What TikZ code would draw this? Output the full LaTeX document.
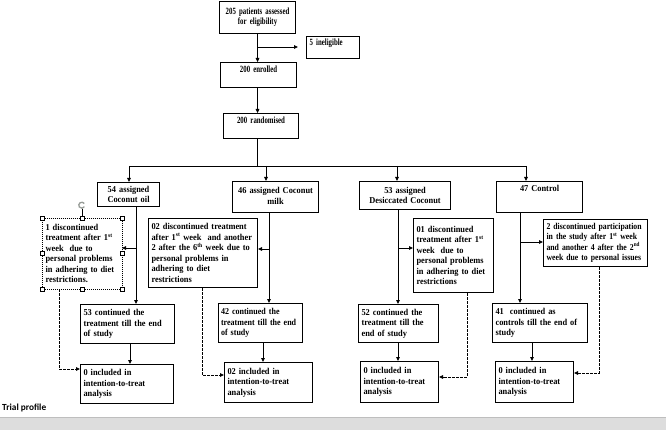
\documentclass[tikz,border=0pt]{standalone}
\usepackage{fontspec}
\setmainfont{Liberation Serif}
\newfontfamily\bxfont{Liberation Serif}[FakeStretch=0.93]
\newfontfamily\midfont{Liberation Serif}[FakeStretch=0.89]
\newfontfamily\narrowfont{Liberation Serif}[FakeStretch=0.86]
\newfontfamily\condfont{Liberation Serif}[FakeStretch=0.72]
\newfontfamily\capfont{Carlito}
\usetikzlibrary{arrows.meta}
\definecolor{bandgrey}{RGB}{221,221,221}
\definecolor{bandline}{RGB}{190,190,190}
\definecolor{rotgrey}{RGB}{150,155,150}
\begin{document}
\begin{tikzpicture}[x=1pt,y=-1pt,
 box/.style={draw, line width=1.1pt, anchor=north west, inner xsep=3pt, inner ysep=2pt,
   font=\bxfont\fontsize{9}{10.5}\selectfont\bfseries, align=left},
 cbox/.style={box, align=center},
 topbox/.style={cbox, font=\condfont\fontsize{9.5}{10.4}\selectfont\bfseries},
 conn/.style={line width=0.9pt},
 arr/.style={conn, -{Triangle[length=4pt,width=3.6pt]}},
 darr/.style={arr, dash pattern=on 2.5pt off 1.5pt},
 handlebox/.style={draw, fill=white, line width=0.4pt}
]
\useasboundingbox (0,0) rectangle (666,430);

% top flow
\node[topbox, minimum width=76pt, minimum height=32pt, text width=70pt] (a) at (219,1) {205 patients assessed\\for eligibility};
\node[box, font=\condfont\fontsize{9.5}{10.4}\selectfont\bfseries, minimum width=53pt, minimum height=22pt, text width=47pt, text height=7pt, text depth=11pt] (inel) at (306,36) {5 ineligible};
\node[topbox, minimum width=76pt, minimum height=25pt, text width=70pt, text height=8pt, text depth=13pt] (b) at (220,62) {200 enrolled};
\node[topbox, minimum width=75pt, minimum height=25pt, text width=69pt, text height=8pt, text depth=13pt] (c) at (223,113) {200 randomised};

% groups
\node[cbox, minimum width=62pt, minimum height=24pt, text width=56pt] (g1) at (97,182) {54 assigned\\Coconut oil};
\node[cbox, minimum width=86pt, minimum height=31pt, text width=80pt] (g2) at (232,181) {46 assigned Coconut\\milk\vphantom{g}\\[-3pt]};
\node[cbox, minimum width=91pt, minimum height=28pt, text width=85pt] (g3) at (359,181) {53 assigned\\Desiccated Coconut};
\node[cbox, minimum width=86pt, minimum height=31pt, text width=80pt, text height=8pt, text depth=19pt] (g4) at (496,181) {47 Control};

% discontinued
\node[box, draw=none, minimum width=79pt, minimum height=70pt, text width=73pt] (d1) at (42,218) {1 discontinued\\treatment after 1\textsuperscript{st}\\week~ due to\\personal problems\\in adhering to diet\\restrictions.};
\node[box, minimum width=109pt, minimum height=69pt, text width=103pt] (d2) at (148,218) {02 discontinued treatment\\after 1\textsuperscript{st} week~ and another\\2 after the 6\textsuperscript{th} week due to\\personal problems in\\adhering to diet\\restrictions};
\node[box, minimum width=80pt, minimum height=74pt, text width=74pt] (d3) at (413,218) {01 discontinued\\treatment after 1\textsuperscript{st}\\week~ due to\\personal problems\\in adhering to diet\\restrictions};
\node[box, font=\narrowfont\fontsize{9}{10.5}\selectfont\bfseries, minimum width=104pt, minimum height=47pt, text width=98pt] (d4) at (543,219) {2 discontinued participation\\in the study after 1\textsuperscript{st} week\\and another 4 after the 2\textsuperscript{nd}\\week due to personal issues};

% continued
\node[box, minimum width=94pt, minimum height=39pt, text width=88pt] (k1) at (80,304) {53 continued the\\treatment till the end\\of study};
\node[box, font=\midfont\fontsize{9}{10.5}\selectfont\bfseries, minimum width=84pt, minimum height=39pt, text width=79pt, inner xsep=2.5pt] (k2) at (218,303) {42 continued the\\treatment till the end\\of study};
\node[box, minimum width=80pt, minimum height=38pt, text width=74pt] (k3) at (358,304) {52 continued the\\treatment till the\\end of study};
\node[box, minimum width=95pt, minimum height=39pt, text width=89pt] (k4) at (492,303) {41~ continued as\\controls till the end of\\study};

% included
\node[box, minimum width=93pt, minimum height=39pt, text width=87pt] (i1) at (80,364) {0 included in\\intention-to-treat\\analysis};
\node[box, minimum width=88pt, minimum height=40pt, text width=82pt] (i2) at (224,362) {02 included in\\intention-to-treat\\analysis};
\node[box, minimum width=78pt, minimum height=41pt, text width=72pt] (i3) at (360,361) {0 included in\\intention-to-treat\\analysis};
\node[box, minimum width=78pt, minimum height=41pt, text width=72pt] (i4) at (495,361) {0 included in\\intention-to-treat\\analysis};

% selection frame of d1
\draw[line width=0.8pt, dash pattern=on 1.2pt off 0.8pt] (d1.north west) rectangle (d1.south east);
\draw[line width=0.5pt] (d1.north) -- ++(0pt,9pt);
\draw[rotgrey, line width=1.3pt] ([yshift=13pt]d1.north) ++(2.2pt,1.5pt) arc[start angle=35, end angle=330, radius=3pt];
\foreach \p in {north west,north,north east,west,east,south west,south,south east}
  \draw[handlebox] ([shift={(-2pt,-2pt)}]d1.\p) rectangle ++(4pt,4pt);

% top connectors
\draw[arr] (a.south) -- (a.south |- b.north);
\coordinate (j1) at (257,47);
\draw[arr] (j1) -- ([xshift=-8pt]inel.west |- j1);
\draw[arr] (b.south -| a.south) -- (a.south |- c.north);
\coordinate (s) at (257,166);
\draw[conn] (c.south -| s) -- (s);
\coordinate (h1) at (129,166);
\coordinate (h2) at (266,166);
\coordinate (h3) at (397,166);
\coordinate (h4) at (526,166);
\draw[conn] (h1) -- (h4);
\draw[arr] (h1) -- (h1 |- g1.north);
\draw[arr] (h2) -- (h2 |- g2.north);
\draw[arr] (h3) -- (h3 |- g3.north);
\draw[arr] (h4) -- (h4 |- g4.north);

% group verticals and side arrows
\coordinate (v1) at (136,248);
\coordinate (v2) at (269,249);
\coordinate (v3) at (398,248);
\coordinate (v4) at (520,242);
\draw[arr] (v1 |- g1.south) -- (v1 |- k1.north);
\draw[arr] (v2 |- g2.south) -- (v2 |- k2.north);
\draw[arr] (v3 |- g3.south) -- (v3 |- k3.north);
\draw[arr] (v4 |- g4.south) -- (v4 |- k4.north);
\draw[arr] (v1) -- (d1.east |- v1);
\draw[arr] (v2) -- (d2.east |- v2);
\draw[arr] (v3) -- (d3.west |- v3);
\draw[arr] (v4) -- (d4.west |- v4);

% continued -> included
\coordinate (w1) at (130,350);
\coordinate (w2) at (263,350);
\coordinate (w3) at (398,350);
\coordinate (w4) at (532,350);
\draw[arr] (w1 |- k1.south) -- (w1 |- i1.north);
\draw[arr] (w2 |- k2.south) -- (w2 |- i2.north);
\draw[arr] (w3 |- k3.south) -- (w3 |- i3.north);
\draw[arr] (w4 |- k4.south) -- (w4 |- i4.north);

% dashed
\coordinate (e1) at (59,369);
\coordinate (e2) at (202,375);
\coordinate (e3) at (467,377);
\coordinate (e4) at (599,373);
\draw[darr] (e1 |- d1.south) -- (e1) -- (i1.west |- e1);
\draw[darr] (e2 |- d2.south) -- (e2) -- (i2.west |- e2);
\draw[darr] (e3 |- d3.south) -- (e3) -- (i3.east |- e3);
\draw[darr] (e4 |- d4.south) -- (e4) -- (i4.east |- e4);

% caption and band
\node[anchor=base west, inner sep=0pt, font=\capfont\bfseries\fontsize{9.3}{11}\selectfont] (tp) at (2,410) {Trial profile};
\fill[bandgrey] (0,417) rectangle (666,430);
\draw[bandline, line width=0.8pt] (0,417) -- (666,417);
\end{tikzpicture}
\end{document}
